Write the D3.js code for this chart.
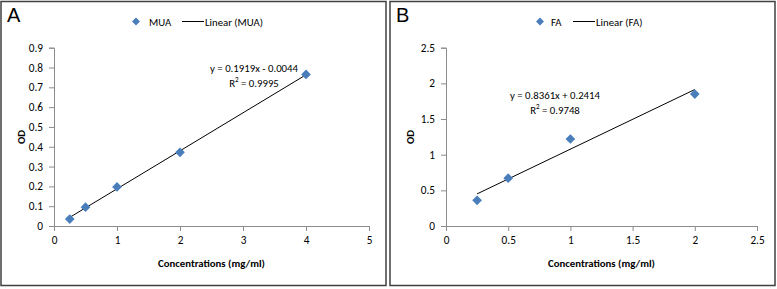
<!DOCTYPE html>
<html lang="en">
<head>
<meta charset="UTF-8">
<title>Calibration curves</title>
<script src="https://cdn.jsdelivr.net/npm/d3@7"></script>
<style>
    body { margin: 0; background: #fff; }
</style>
</head>
<body>
<script>
    const w = 777, h = 289;

    // panel A (MUA)
    const muaX = [0.25, 0.5, 1, 2, 4];
    const muaY = [0.035, 0.095, 0.197, 0.372, 0.765];
    const muaFit = [0.1919, -0.0044];
    const muaXTicks = [0, 1, 2, 3, 4, 5];
    const muaYTicks = [0, 0.1, 0.2, 0.3, 0.4, 0.5, 0.6, 0.7, 0.8, 0.9];

    // panel B (FA)
    const faX = [0.25, 0.5, 1, 2];
    const faY = [0.36, 0.67, 1.22, 1.85];
    const faFit = [0.8361, 0.2414];
    const faXTicks = [0, 0.5, 1, 1.5, 2, 2.5];
    const faYTicks = [0, 0.5, 1, 1.5, 2, 2.5];

    const blue = "#4a7ebb";

    // pick a narrow font (Calibri look-alike) if one is installed
    let ctx = document.createElement("canvas").getContext("2d");
    function hasFont(f) {
        ctx.font = "20px monospace";
        let a = ctx.measureText("Concentrations (mg/ml)").width;
        ctx.font = "20px '" + f + "', monospace";
        return ctx.measureText("Concentrations (mg/ml)").width !== a;
    }
    let font = "'Liberation Sans', Arial, sans-serif";
    ["Carlito", "Liberation Sans Narrow", "Lato"].some(function(f) {
        if (hasFont(f)) { font = "'" + f + "', sans-serif"; return true; }
        return false;
    });
    // size so the equation is about as wide as in the original (~88px)
    ctx.font = "100px " + font;
    let fs = Math.min(12, 100 * 88 / ctx.measureText("y = 0.1919x - 0.0044").width);

    let svg = d3.select("body").append("svg")
        .attr("width", w)
        .attr("height", h)
        .style("font-family", font);

    function panel(opt) {
        let g = svg.append("g").attr("transform", "translate(" + opt.left + ",0)");

        g.append("rect")
            .attr("x", 1).attr("y", 1.5)
            .attr("width", opt.width).attr("height", 284)
            .attr("fill", "none")
            .attr("stroke", "#404040")
            .attr("stroke-width", 1.5);

        g.append("text")
            .attr("x", 7).attr("y", 22)
            .style("font-family", "'Liberation Sans', Arial, sans-serif")
            .style("font-size", "20px")
            .text(opt.letter);

        let x = d3.scaleLinear().domain(opt.xDomain).range([opt.x0, opt.x1]);
        let y = d3.scaleLinear().domain(opt.yDomain).range([226, 47.7]);

        let xAxis = g.append("g")
            .attr("transform", "translate(0,226)")
            .call(d3.axisBottom(x).tickValues(opt.xTicks).tickFormat(String).tickSize(5).tickPadding(5));
        let yAxis = g.append("g")
            .attr("transform", "translate(" + opt.x0 + ",0)")
            .call(d3.axisLeft(y).tickValues(opt.yTicks).tickFormat(String).tickSize(5).tickPadding(6));

        [xAxis, yAxis].forEach(function(a) {
            a.attr("font-family", null).attr("font-size", null);
            a.select(".domain").attr("stroke", "#8c8c8c");
            a.selectAll(".tick line").attr("stroke", "#8c8c8c");
            a.selectAll(".tick text")
                .style("font-size", (fs + 0.5) + "px")
                .attr("fill", "#000");
        });

        // trend line over the data range
        let xs = d3.extent(opt.xs);
        g.append("line")
            .attr("x1", x(xs[0])).attr("y1", y(opt.fit[0] * xs[0] + opt.fit[1]))
            .attr("x2", x(xs[1])).attr("y2", y(opt.fit[0] * xs[1] + opt.fit[1]))
            .attr("stroke", "#000")
            .attr("stroke-width", 1);

        let diamond = d3.symbol().type(d3.symbolDiamond2).size(60);
        g.selectAll("path.pt")
            .data(opt.xs.map(function(d, i) { return [d, opt.ys[i]]; }))
            .enter()
            .append("path")
            .attr("class", "pt")
            .attr("d", diamond)
            .attr("transform", function(d) {
                return "translate(" + x(d[0]) + "," + y(d[1]) + ")";
            })
            .attr("fill", blue);

        // equation
        let sign = opt.fit[1] < 0 ? " - " : " + ";
        g.append("text")
            .attr("x", opt.eqX).attr("y", opt.eqY)
            .attr("text-anchor", "middle")
            .style("font-size", fs + "px")
            .text("y = " + opt.fit[0].toFixed(4) + "x" + sign + Math.abs(opt.fit[1]).toFixed(4));
        let r = g.append("text")
            .attr("x", opt.eqX).attr("y", opt.eqY + 15)
            .attr("text-anchor", "middle")
            .style("font-size", fs + "px");
        r.append("tspan").text("R");
        r.append("tspan").attr("dy", -5).style("font-size", "7px").text("2");
        r.append("tspan").attr("dy", 5).text(" = " + opt.r2);

        // legend
        g.append("path")
            .attr("d", d3.symbol().type(d3.symbolDiamond2).size(40))
            .attr("transform", "translate(" + opt.legX + ",21.5)")
            .attr("fill", blue);
        g.append("text")
            .attr("x", opt.legX + opt.nameDx).attr("y", 25.5)
            .style("font-size", fs + "px")
            .text(opt.name);
        g.append("line")
            .attr("x1", opt.legX + opt.lineDx).attr("x2", opt.legX + opt.lineDx + 22)
            .attr("y1", 21.5).attr("y2", 21.5)
            .attr("stroke", "#000");
        g.append("text")
            .attr("x", opt.legX + opt.lineDx + 23).attr("y", 25.5)
            .style("font-size", fs + "px")
            .text("Linear (" + opt.name + ")");

        // axis titles
        g.append("text")
            .attr("x", (opt.x0 + opt.x1) / 2).attr("y", 267)
            .attr("text-anchor", "middle")
            .style("font-size", fs + "px")
            .style("font-weight", "bold")
            .text("Concentrations (mg/ml)");
        g.append("text")
            .attr("transform", "translate(25,137) rotate(-90)")
            .attr("text-anchor", "middle")
            .style("font-size", fs + "px")
            .style("font-weight", "bold")
            .text("OD");
    }

    panel({
        left: 0, width: 385, letter: "A", name: "MUA",
        xs: muaX, ys: muaY, fit: muaFit, r2: "0.9995",
        xDomain: [0, 5], yDomain: [0, 0.9], xTicks: muaXTicks, yTicks: muaYTicks,
        x0: 54, x1: 369, eqX: 254, eqY: 72,
        legX: 136, nameDx: 13, lineDx: 46
    });

    panel({
        left: 389, width: 385, letter: "B", name: "FA",
        xs: faX, ys: faY, fit: faFit, r2: "0.9748",
        xDomain: [0, 2.5], yDomain: [0, 2.5], xTicks: faXTicks, yTicks: faYTicks,
        x0: 57, x1: 368, eqX: 166, eqY: 99,
        legX: 151, nameDx: 11, lineDx: 33
    });
</script>
</body>
</html>
